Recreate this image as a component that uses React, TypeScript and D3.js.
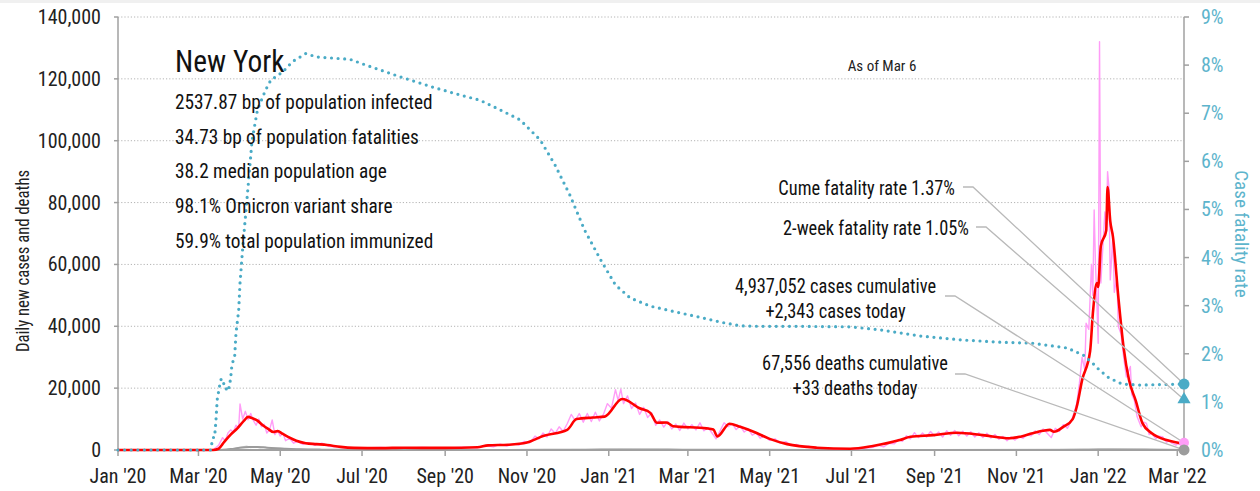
import React, { useEffect, useRef } from "react";
import * as d3 from "d3";

// daily new cases, 7-day average (thousands)
const casesAvg: [string, number][] = [
  ["2020-01-01", 0], ["2020-03-12", 0], ["2020-03-16", 0.4], ["2020-03-20", 2.5], ["2020-03-25", 5],
  ["2020-03-30", 7], ["2020-04-04", 9.5], ["2020-04-07", 10.7], ["2020-04-10", 10.3], ["2020-04-14", 9.5],
  ["2020-04-18", 8], ["2020-04-22", 6.8], ["2020-04-26", 5.8], ["2020-04-29", 6.1], ["2020-05-03", 5.2],
  ["2020-05-08", 4], ["2020-05-13", 3], ["2020-05-20", 2.2], ["2020-05-28", 1.9], ["2020-06-05", 1.6],
  ["2020-06-15", 1.0], ["2020-06-25", 0.7], ["2020-07-15", 0.6], ["2020-08-01", 0.75], ["2020-08-15", 0.7],
  ["2020-09-01", 0.7], ["2020-09-25", 0.9], ["2020-10-03", 1.5], ["2020-10-18", 1.7], ["2020-11-01", 2.4],
  ["2020-11-13", 4.5], ["2020-12-01", 6.5], ["2020-12-08", 10], ["2020-12-20", 10.5], ["2020-12-29", 10.8],
  ["2021-01-11", 16.5], ["2021-01-24", 13.5], ["2021-02-01", 12], ["2021-02-06", 8.8], ["2021-02-13", 8.9],
  ["2021-02-18", 7.7], ["2021-03-15", 7.0], ["2021-03-20", 6.6], ["2021-03-23", 4.4], ["2021-04-01", 8.5],
  ["2021-04-09", 7.5], ["2021-04-19", 5.9], ["2021-05-01", 3.6], ["2021-05-14", 1.9], ["2021-06-05", 0.75],
  ["2021-06-30", 0.4], ["2021-07-17", 1.3], ["2021-08-06", 3.2], ["2021-08-14", 4.3], ["2021-08-31", 4.8],
  ["2021-09-18", 5.6], ["2021-10-07", 4.8], ["2021-10-27", 3.8], ["2021-11-04", 4.3], ["2021-11-13", 5.4],
  ["2021-11-21", 6.2], ["2021-11-26", 6.5], ["2021-11-29", 5.9], ["2021-12-06", 7.5], ["2021-12-13", 10],
  ["2021-12-16", 14], ["2021-12-20", 22.6], ["2021-12-26", 32], ["2021-12-28", 44], ["2021-12-31", 54],
  ["2022-01-01", 52.7], ["2022-01-03", 66], ["2022-01-07", 71], ["2022-01-08", 85], ["2022-01-10", 74],
  ["2022-01-12", 69], ["2022-01-16", 49.6], ["2022-01-20", 33], ["2022-01-24", 22.6], ["2022-01-29", 16],
  ["2022-02-03", 8.7], ["2022-02-10", 5.4], ["2022-02-21", 3.2], ["2022-03-03", 2.2], ["2022-03-06", 1.9],
];

// daily new cases, reported (thousands)
const casesRaw: [string, number][] = [
  ["2020-01-01", 0], ["2020-03-12", 0.1], ["2020-03-16", 1.5], ["2020-03-19", 4], ["2020-03-21", 3],
  ["2020-03-23", 5.5], ["2020-03-25", 6.5], ["2020-03-27", 5.8], ["2020-03-29", 8], ["2020-03-31", 7.2],
  ["2020-04-01", 14.9], ["2020-04-03", 10], ["2020-04-05", 12.5], ["2020-04-07", 9.8], ["2020-04-09", 11.8],
  ["2020-04-11", 9.5], ["2020-04-13", 8], ["2020-04-15", 10], ["2020-04-17", 7.5], ["2020-04-19", 8.3],
  ["2020-04-21", 5.5], ["2020-04-23", 6.5], ["2020-04-25", 9.7], ["2020-04-27", 5], ["2020-04-29", 6.3],
  ["2020-05-01", 4.5], ["2020-05-03", 5.4], ["2020-05-05", 3], ["2020-05-08", 3.8], ["2020-05-11", 2.2],
  ["2020-05-14", 2.8], ["2020-05-18", 1.8], ["2020-05-22", 2.4], ["2020-05-27", 1.5], ["2020-06-01", 2.2],
  ["2020-06-06", 1.2], ["2020-06-12", 1.0], ["2020-06-20", 0.6], ["2020-07-01", 0.7], ["2020-07-15", 0.8],
  ["2020-08-01", 0.6], ["2020-08-15", 0.8], ["2020-09-01", 0.6], ["2020-09-15", 0.9], ["2020-09-25", 0.7],
  ["2020-10-01", 1.4], ["2020-10-07", 1.0], ["2020-10-12", 1.9], ["2020-10-17", 1.3], ["2020-10-22", 2.0],
  ["2020-10-26", 1.6], ["2020-10-30", 2.8], ["2020-11-03", 2.3], ["2020-11-07", 4.5], ["2020-11-10", 3.6],
  ["2020-11-13", 5.5], ["2020-11-16", 4.2], ["2020-11-19", 6.8], ["2020-11-22", 5.4], ["2020-11-25", 7.5],
  ["2020-11-28", 6.0], ["2020-12-01", 8.5], ["2020-12-04", 11.5], ["2020-12-07", 9.5], ["2020-12-10", 11.8],
  ["2020-12-13", 9], ["2020-12-16", 11.8], ["2020-12-19", 9.2], ["2020-12-22", 12.2], ["2020-12-25", 9.4],
  ["2020-12-28", 11.5], ["2020-12-31", 15], ["2021-01-03", 13.5], ["2021-01-06", 19.5], ["2021-01-08", 16],
  ["2021-01-10", 19.7], ["2021-01-12", 15], ["2021-01-15", 17.5], ["2021-01-18", 13.4], ["2021-01-21", 15.2],
  ["2021-01-24", 11.5], ["2021-01-27", 13.8], ["2021-01-30", 10.5], ["2021-02-02", 12], ["2021-02-05", 8],
  ["2021-02-08", 9.7], ["2021-02-11", 7.4], ["2021-02-14", 9.2], ["2021-02-17", 6.8], ["2021-02-20", 8.4],
  ["2021-02-23", 6.3], ["2021-02-26", 8.7], ["2021-03-01", 6.8], ["2021-03-04", 8.2], ["2021-03-07", 6.5],
  ["2021-03-10", 8.8], ["2021-03-13", 6.2], ["2021-03-16", 7.3], ["2021-03-19", 5.5], ["2021-03-22", 3.6],
  ["2021-03-25", 6.2], ["2021-03-28", 8.8], ["2021-03-31", 7.5], ["2021-04-03", 8.5], ["2021-04-06", 6.6],
  ["2021-04-09", 7.8], ["2021-04-12", 5.8], ["2021-04-15", 6.8], ["2021-04-18", 4.8], ["2021-04-21", 5.5],
  ["2021-04-24", 3.8], ["2021-04-27", 4.6], ["2021-05-01", 3.1], ["2021-05-05", 3.6], ["2021-05-09", 2.2],
  ["2021-05-13", 2.7], ["2021-05-17", 1.5], ["2021-05-21", 1.8], ["2021-05-25", 1.0], ["2021-05-30", 1.2],
  ["2021-06-05", 0.5], ["2021-06-12", 0.6], ["2021-06-20", 0.3], ["2021-06-28", 0.4], ["2021-07-05", 0.3],
  ["2021-07-12", 0.6], ["2021-07-17", 0.9], ["2021-07-21", 1.5], ["2021-07-25", 1.0], ["2021-07-29", 2.2],
  ["2021-08-02", 2.0], ["2021-08-05", 3.4], ["2021-08-08", 2.8], ["2021-08-11", 4.6], ["2021-08-14", 3.6],
  ["2021-08-17", 5.6], ["2021-08-20", 4.0], ["2021-08-23", 5.5], ["2021-08-26", 4.2], ["2021-08-29", 6.0],
  ["2021-09-01", 4.5], ["2021-09-04", 5.8], ["2021-09-07", 4.2], ["2021-09-10", 6.2], ["2021-09-13", 4.8],
  ["2021-09-16", 6.3], ["2021-09-19", 4.6], ["2021-09-22", 6.1], ["2021-09-25", 4.5], ["2021-09-28", 5.9],
  ["2021-10-01", 4.2], ["2021-10-04", 5.6], ["2021-10-07", 4.0], ["2021-10-10", 5.4], ["2021-10-13", 3.9],
  ["2021-10-16", 5.0], ["2021-10-19", 3.5], ["2021-10-22", 4.4], ["2021-10-25", 3.0], ["2021-10-28", 4.2],
  ["2021-10-31", 3.2], ["2021-11-03", 4.4], ["2021-11-06", 3.8], ["2021-11-09", 5.0], ["2021-11-12", 4.6],
  ["2021-11-15", 6.2], ["2021-11-18", 5.0], ["2021-11-21", 6.8], ["2021-11-24", 5.4], ["2021-11-27", 4.0],
  ["2021-11-30", 7.0], ["2021-12-03", 6.0], ["2021-12-06", 8.2], ["2021-12-09", 7.0], ["2021-12-12", 9.5],
  ["2021-12-14", 12], ["2021-12-16", 15], ["2021-12-18", 21.6], ["2021-12-20", 30], ["2021-12-22", 26],
  ["2021-12-23", 41], ["2021-12-25", 39], ["2021-12-27", 60], ["2021-12-28", 50], ["2021-12-29", 77.6],
  ["2021-12-30", 60], ["2021-12-31", 48], ["2022-01-01", 34.5], ["2022-01-02", 132], ["2022-01-03", 54],
  ["2022-01-04", 62], ["2022-01-06", 77], ["2022-01-07", 70], ["2022-01-08", 90], ["2022-01-09", 85],
  ["2022-01-10", 55], ["2022-01-11", 62], ["2022-01-12", 70], ["2022-01-13", 51], ["2022-01-15", 56],
  ["2022-01-16", 40], ["2022-01-18", 37.6], ["2022-01-20", 30], ["2022-01-22", 23.6], ["2022-01-25", 27],
  ["2022-01-26", 18], ["2022-01-28", 16], ["2022-01-30", 10.8], ["2022-02-02", 7.5], ["2022-02-04", 9],
  ["2022-02-06", 8.6], ["2022-02-08", 5], ["2022-02-10", 5.4], ["2022-02-13", 3.6], ["2022-02-15", 4.5],
  ["2022-02-18", 4.3], ["2022-02-21", 2.5], ["2022-02-23", 3.0], ["2022-02-25", 2.2], ["2022-02-28", 1.6],
  ["2022-03-02", 2.2], ["2022-03-04", 1.6], ["2022-03-06", 2.343],
];

// daily deaths, 7-day average and reported (thousands)
const deathsAvg: [string, number][] = [
  ["2020-01-01", 0], ["2020-03-15", 0], ["2020-03-25", 0.3], ["2020-04-01", 0.7], ["2020-04-08", 0.95],
  ["2020-04-14", 1.0], ["2020-04-21", 0.75], ["2020-04-28", 0.55], ["2020-05-05", 0.4], ["2020-05-15", 0.25],
  ["2020-06-01", 0.12], ["2020-06-20", 0.05], ["2020-08-01", 0.02], ["2020-10-15", 0.02], ["2020-11-15", 0.05],
  ["2020-12-15", 0.1], ["2021-01-15", 0.17], ["2021-02-15", 0.13], ["2021-03-15", 0.08], ["2021-04-15", 0.06],
  ["2021-06-01", 0.02], ["2021-08-01", 0.02], ["2021-09-15", 0.04], ["2021-11-15", 0.03], ["2021-12-20", 0.06],
  ["2022-01-15", 0.2], ["2022-02-05", 0.15], ["2022-03-06", 0.04],
];
const deathsRaw: [string, number][] = [
  ["2020-01-01", 0], ["2020-03-15", 0], ["2020-03-22", 0.2], ["2020-03-28", 0.5], ["2020-04-02", 0.9],
  ["2020-04-06", 1.2], ["2020-04-09", 0.8], ["2020-04-12", 1.1], ["2020-04-16", 0.7], ["2020-04-20", 0.9],
  ["2020-04-25", 0.5], ["2020-05-01", 0.6], ["2020-05-08", 0.3], ["2020-05-18", 0.3], ["2020-06-01", 0.1],
  ["2020-07-01", 0.03], ["2020-10-01", 0.02], ["2021-01-10", 0.2], ["2021-04-01", 0.07], ["2021-07-01", 0.02],
  ["2022-01-12", 0.25], ["2022-02-10", 0.12], ["2022-03-06", 0.033],
];

// case fatality rate (%)
const cfr: [string, number][] = [
  ["2020-01-01", 0], ["2020-03-10", 0], ["2020-03-11", 0.14], ["2020-03-12", 0.26], ["2020-03-13", 0.26],
  ["2020-03-14", 0.59], ["2020-03-15", 1.05], ["2020-03-16", 1.21], ["2020-03-17", 1.37], ["2020-03-18", 1.48],
  ["2020-03-19", 1.39], ["2020-03-21", 1.37], ["2020-03-22", 1.23], ["2020-03-23", 1.23], ["2020-03-24", 1.32],
  ["2020-03-25", 1.49], ["2020-03-26", 1.78], ["2020-03-28", 1.94], ["2020-03-29", 2.43], ["2020-03-31", 2.9],
  ["2020-04-01", 3.47], ["2020-04-03", 4.2], ["2020-04-07", 5.47], ["2020-04-10", 6.44], ["2020-04-14", 7.07],
  ["2020-04-20", 7.48], ["2020-04-24", 7.69], ["2020-05-03", 7.86], ["2020-05-10", 8.07], ["2020-05-20", 8.24],
  ["2020-05-28", 8.17], ["2020-06-22", 8.12], ["2020-07-04", 8.0], ["2020-07-29", 7.76], ["2020-08-23", 7.54],
  ["2020-09-12", 7.38], ["2020-09-27", 7.27], ["2020-10-12", 7.07], ["2020-10-27", 6.86], ["2020-11-11", 6.44],
  ["2020-11-22", 5.92], ["2020-12-03", 5.3], ["2020-12-14", 4.57], ["2020-12-26", 3.95], ["2021-01-06", 3.43],
  ["2021-01-17", 3.16], ["2021-02-01", 2.99], ["2021-02-23", 2.85], ["2021-03-10", 2.76], ["2021-03-25", 2.66],
  ["2021-04-09", 2.58], ["2021-04-24", 2.57], ["2021-05-24", 2.57], ["2021-06-30", 2.56], ["2021-07-22", 2.5],
  ["2021-08-21", 2.37], ["2021-09-20", 2.29], ["2021-10-20", 2.24], ["2021-11-13", 2.22], ["2021-12-09", 2.12],
  ["2021-12-21", 1.97], ["2021-12-28", 1.8], ["2022-01-02", 1.66], ["2022-01-09", 1.5], ["2022-01-19", 1.37],
  ["2022-02-01", 1.35], ["2022-03-06", 1.37],
];

const leftTicks = [0, 20000, 40000, 60000, 80000, 100000, 120000, 140000];
const rightTicks = [0, 1, 2, 3, 4, 5, 6, 7, 8, 9];

const stateName = "New York";
const statLines = [
  "2537.87 bp of population infected",
  "34.73 bp of population fatalities",
  "38.2 median population age",
  "98.1% Omicron variant share",
  "59.9% total population immunized",
];
const asOf = "As of Mar 6";
const lastDate = "2022-03-06";
const cumeRate = 1.37;
const twoWeekRate = 1.05;
const casesCum = 4937052;
const casesToday = 2343;
const deathsCum = 67556;
const deathsToday = 33;

const FONT = "'Liberation Sans Narrow', 'Arial Narrow', 'Roboto Condensed', sans-serif";
const TEAL = "#4aabc6";
const TEAL_TXT = "#5db4cc";
const PINK = "#ff9cf7";
const RED = "#ff0000";
const AXIS = "#a0a0a0";

const App = () => {
  const ref = useRef<SVGSVGElement | null>(null);

  useEffect(() => {
    const svg = d3.select(ref.current);
    svg.selectAll("*").remove();

    const W = 1260, H = 491;
    const left = 118, right = 1184, top = 17, bottom = 450;
    const parse = d3.utcParse("%Y-%m-%d");

    const x = d3.scaleUtc().domain([parse("2020-01-01")!, parse(lastDate)!]).range([left, right]);
    const yL = d3.scaleLinear().domain([0, 140000]).range([bottom, top]);
    const yR = d3.scaleLinear().domain([0, 9]).range([bottom, top]);

    // condensed text: scale glyphs horizontally around the anchor point
    const label = (g: any, tx: number, ty: number, str: string, size: number, opts: any = {}) =>
      g.append("text")
        .attr("transform", `translate(${tx},${ty})${opts.rotate ? ` rotate(${opts.rotate})` : ""} scale(${opts.sx ?? 1},1)`)
        .attr("text-anchor", opts.anchor ?? "start")
        .attr("font-family", FONT).attr("font-size", size).attr("fill", opts.fill ?? "#111")
        .text(str);

    svg.append("rect").attr("width", W).attr("height", H).attr("fill", "#fff");
    svg.append("rect").attr("width", W).attr("height", 3).attr("fill", "#f0f0f0");

    // gridlines
    svg.append("g").selectAll("line")
      .data(leftTicks.filter((d) => d > 0))
      .join("line")
      .attr("x1", left).attr("x2", right)
      .attr("y1", (d) => yL(d)).attr("y2", (d) => yL(d))
      .attr("stroke", "#b4b4b4").attr("stroke-width", 1).attr("stroke-dasharray", "1.2,2");

    // left axis
    const gl = svg.append("g").attr("font-family", FONT);
    gl.append("line").attr("x1", left).attr("x2", left).attr("y1", top).attr("y2", bottom)
      .attr("stroke", AXIS).attr("stroke-width", 1.5);
    gl.selectAll(".t").data(leftTicks).join("line")
      .attr("x1", left - 4).attr("x2", left).attr("y1", (d) => yL(d)).attr("y2", (d) => yL(d))
      .attr("stroke", AXIS).attr("stroke-width", 1.5);
    gl.selectAll("text").data(leftTicks).join("text")
      .attr("x", 101).attr("y", (d) => yL(d)).attr("dy", "0.35em")
      .attr("text-anchor", "end").attr("font-size", 20).attr("fill", "#222")
      .text((d) => d3.format(",")(d));
    label(svg, 29, 261, "Daily new cases and deaths", 19, { rotate: -90, anchor: "middle", sx: 0.88, fill: "#222" });

    // right axis
    const gr = svg.append("g").attr("font-family", FONT);
    gr.append("line").attr("x1", right).attr("x2", right).attr("y1", top).attr("y2", bottom)
      .attr("stroke", AXIS).attr("stroke-width", 1.5);
    gr.selectAll(".t").data(rightTicks).join("line")
      .attr("x1", right).attr("x2", right + 5).attr("y1", (d) => yR(d)).attr("y2", (d) => yR(d))
      .attr("stroke", AXIS).attr("stroke-width", 1.5);
    gr.selectAll("text").data(rightTicks).join("text")
      .attr("x", 1201).attr("y", (d) => yR(d)).attr("dy", "0.35em")
      .attr("font-size", 20).attr("fill", TEAL_TXT)
      .text((d) => `${d}%`);
    label(svg, 1235, 234, "Case fatality rate", 19, { rotate: 90, anchor: "middle", fill: TEAL_TXT });

    // bottom axis
    const xTicks = d3.utcMonth.every(2)!.range(parse("2020-01-01")!, parse(lastDate)!);
    const gb = svg.append("g").attr("font-family", FONT);
    gb.selectAll("line").data(xTicks).join("line")
      .attr("x1", (d) => x(d)).attr("x2", (d) => x(d)).attr("y1", bottom).attr("y2", bottom + 6)
      .attr("stroke", AXIS).attr("stroke-width", 1.5);
    gb.selectAll("text").data(xTicks).join("text")
      .attr("x", (d) => x(d)).attr("y", 483)
      .attr("text-anchor", "middle").attr("font-size", 20).attr("fill", "#222")
      .text((d) => d3.utcFormat("%b '%y")(d));

    const toPts = (arr: [string, number][], k: number) => arr.map(([d, v]) => [parse(d)!, v * k] as [Date, number]);
    const lineL = d3.line<[Date, number]>().x((d) => x(d[0])).y((d) => yL(d[1]));
    const smoothL = d3.line<[Date, number]>().x((d) => x(d[0])).y((d) => yL(d[1])).curve(d3.curveMonotoneX);
    const lineR = d3.line<[Date, number]>().x((d) => x(d[0])).y((d) => yR(d[1]));

    // deaths
    svg.append("path").attr("d", lineL(toPts(deathsRaw, 1000)))
      .attr("fill", "none").attr("stroke", "#cfcfcf").attr("stroke-width", 1.3);
    svg.append("path").attr("d", smoothL(toPts(deathsAvg, 1000)))
      .attr("fill", "none").attr("stroke", "#9c9c9c").attr("stroke-width", 2);

    // baseline axis on top of deaths
    svg.append("line").attr("x1", left).attr("x2", right).attr("y1", bottom).attr("y2", bottom)
      .attr("stroke", AXIS).attr("stroke-width", 2);

    // cases
    svg.append("path").attr("d", lineL(toPts(casesRaw, 1000)))
      .attr("fill", "none").attr("stroke", PINK).attr("stroke-width", 1.4).attr("stroke-linejoin", "round");
    svg.append("path").attr("d", smoothL(toPts(casesAvg, 1000)))
      .attr("fill", "none").attr("stroke", RED).attr("stroke-width", 2.6).attr("stroke-linejoin", "round");

    // case fatality rate
    svg.append("path").attr("d", lineR(toPts(cfr, 1)))
      .attr("fill", "none").attr("stroke", TEAL).attr("stroke-width", 3.2)
      .attr("stroke-linecap", "round").attr("stroke-dasharray", "0,6.6");

    // stats block
    label(svg, 175, 72, stateName, 31, { sx: 0.95 });
    statLines.forEach((t, i) => label(svg, 175, 109 + i * 34.7, t, 21, { sx: 0.92 }));
    svg.append("text").attr("x", 882).attr("y", 71).attr("text-anchor", "middle")
      .attr("font-family", FONT).attr("font-size", 15).attr("fill", "#222").text(asOf);

    // annotations
    const fmt = d3.format(",");
    const notes = [
      { lines: [`Cume fatality rate ${cumeRate}%`], ax: 955, ay: 195, ly: 187, sx: 963, ty: yR(cumeRate), anchor: "end" },
      { lines: [`2-week fatality rate ${twoWeekRate}%`], ax: 969, ay: 235, ly: 227, sx: 976, ty: yR(twoWeekRate), anchor: "end" },
      { lines: [`${fmt(casesCum)} cases cumulative`, `+${fmt(casesToday)} cases today`], ax: 835.5, ay: 293, ly: 296, sx: 945, ty: yL(casesToday), anchor: "middle" },
      { lines: [`${fmt(deathsCum)} deaths cumulative`, `+${fmt(deathsToday)} deaths today`], ax: 855, ay: 370, ly: 374, sx: 955, ty: yL(deathsToday), anchor: "middle" },
    ];
    const ga = svg.append("g");
    notes.forEach((n) => {
      ga.append("path")
        .attr("d", `M${n.sx},${n.ly}H${n.sx + 10}L${right},${n.ty}`)
        .attr("fill", "none").attr("stroke", "#b9b9b9").attr("stroke-width", 1.3);
    });
    notes.forEach((n) => {
      n.lines.forEach((t, i) => label(ga, n.ax, n.ay + i * 25, t, 20, { anchor: n.anchor, sx: 0.92 }));
    });

    // end markers
    svg.append("circle").attr("cx", right).attr("cy", yL(casesToday)).attr("r", 5).attr("fill", PINK);
    svg.append("circle").attr("cx", right).attr("cy", yL(deathsToday)).attr("r", 5.5).attr("fill", "#9c9c9c");
    svg.append("circle").attr("cx", right).attr("cy", yR(cumeRate)).attr("r", 5.5).attr("fill", TEAL);
    svg.append("path")
      .attr("d", d3.symbol().type(d3.symbolTriangle).size(75)())
      .attr("transform", `translate(${right},${yR(twoWeekRate)})`)
      .attr("fill", TEAL);
  }, []);

  return (
    <svg
      ref={ref}
      width={1260}
      height={491}
      style={{ position: "absolute", left: 0, top: 0, display: "block" }}
    />
  );
};

export default App;
